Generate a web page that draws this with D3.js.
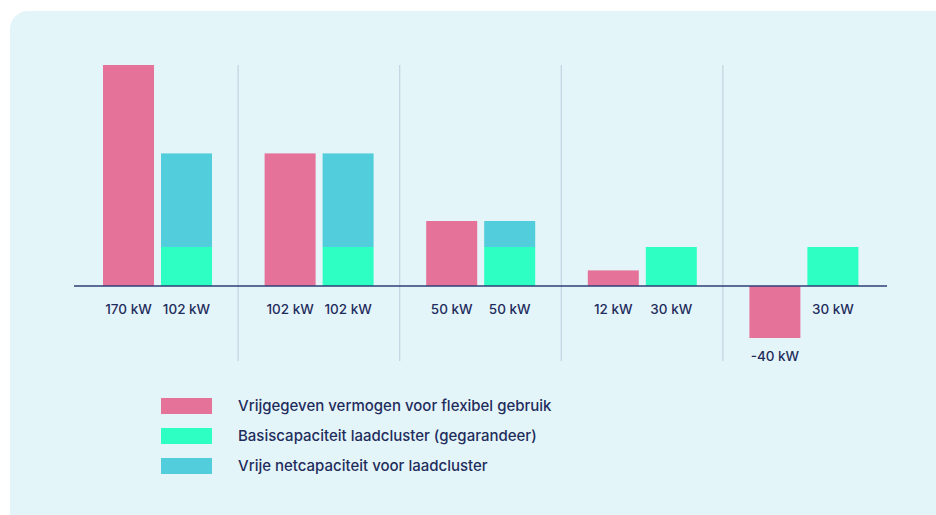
<!DOCTYPE html>
<html>
<head>
<meta charset="utf-8">
<script src="https://cdn.jsdelivr.net/npm/d3@7"></script>
<style>
	body { margin: 0; background: #fff; }
	svg { display: block; font-family: Inter, "Noto Sans", sans-serif; }
</style>
</head>
<body>
<div id="chart"></div>
<script>
const groups = ["g1", "g2", "g3", "g4", "g5"];
const released = [170, 102, 50, 12, -40];     // Vrijgegeven vermogen
const basis = [30, 30, 30, 30, 30];           // Basiscapaciteit (gegarandeerd)
const free = [72, 72, 20, 0, 0];              // Vrije netcapaciteit
const stackLabels = ["102 kW", "102 kW", "50 kW", "30 kW", "30 kW"];
const releasedLabels = ["170 kW", "102 kW", "50 kW", "12 kW", "-40 kW"];
const legendItems = [
	"Vrijgegeven vermogen voor flexibel gebruik",
	"Basiscapaciteit laadcluster (gegarandeer)",
	"Vrije netcapaciteit voor laadcluster"
];

const W = 936, H = 515;
const colors = {pink: "#e57399", green: "#2effc3", teal: "#52cddb"};
const textColor = "#1f2d5c";

const svg = d3.select("#chart").append("svg")
		.attr("width", W)
		.attr("height", H);

// panel background
svg.append("rect")
		.attr("x", 10).attr("y", 11)
		.attr("width", W + 20).attr("height", H + 20)
		.attr("rx", 18)
		.attr("fill", "#e4f5fa");

const x0 = d3.scaleBand()
		.domain(groups)
		.range([76, 884]);

const x1 = d3.scaleBand()
		.domain(["a", "b"])
		.range([27, 136])
		.paddingInner(7 / 58);

const y = d3.scaleLinear()
		.domain([-40, 170])
		.range([338, 65]);

// dividers
svg.selectAll(".divider")
	.data(groups.slice(1))
	.enter()
	.append("line")
		.attr("x1", d => x0(d) + 0.5)
		.attr("x2", d => x0(d) + 0.5)
		.attr("y1", 65)
		.attr("y2", 361)
		.attr("stroke", "#c5d2e0")
		.attr("stroke-width", 1.2);

const g = svg.selectAll(".group")
	.data(groups)
	.enter()
	.append("g")
		.attr("transform", d => `translate(${x0(d)},0)`);

// released power bars
g.append("rect")
		.attr("x", x1("a"))
		.attr("width", x1.bandwidth())
		.attr("y", (d, i) => y(Math.max(0, released[i])))
		.attr("height", (d, i) => Math.abs(y(released[i]) - y(0)))
		.attr("fill", colors.pink);

// stacked: basis + free
g.append("rect")
		.attr("x", x1("b"))
		.attr("width", x1.bandwidth())
		.attr("y", (d, i) => y(basis[i]))
		.attr("height", (d, i) => y(0) - y(basis[i]))
		.attr("fill", colors.green);

g.append("rect")
		.attr("x", x1("b"))
		.attr("width", x1.bandwidth())
		.attr("y", (d, i) => y(basis[i] + free[i]))
		.attr("height", (d, i) => y(basis[i]) - y(basis[i] + free[i]))
		.attr("fill", colors.teal);

// labels
g.append("text")
		.attr("x", x1("a") + x1.bandwidth() / 2)
		.attr("y", (d, i) => released[i] < 0 ? y(released[i]) + 23 : y(0) + 28)
		.attr("text-anchor", "middle")
		.attr("font-size", 13.5)
		.attr("font-weight", 500)
		.attr("fill", textColor)
		.text((d, i) => releasedLabels[i]);

g.append("text")
		.attr("x", x1("b") + x1.bandwidth() / 2)
		.attr("y", y(0) + 28)
		.attr("text-anchor", "middle")
		.attr("font-size", 13.5)
		.attr("font-weight", 500)
		.attr("fill", textColor)
		.text((d, i) => stackLabels[i]);

// zero axis
svg.append("line")
		.attr("x1", 74).attr("x2", 887)
		.attr("y1", y(0)).attr("y2", y(0))
		.attr("stroke", "#2e3f75")
		.attr("stroke-width", 1.3);

// legend
const legend = svg.selectAll(".legend")
	.data(legendItems)
	.enter()
	.append("g")
		.attr("transform", (d, i) => `translate(161,${398 + i * 30})`);

legend.append("rect")
		.attr("width", 51)
		.attr("height", 16)
		.attr("fill", (d, i) => [colors.pink, colors.green, colors.teal][i]);

legend.append("text")
		.attr("x", 77)
		.attr("y", 8)
		.attr("dy", "0.35em")
		.attr("font-size", 15)
		.attr("font-weight", 500)
		.attr("fill", textColor)
		.text(d => d);
</script>
</body>
</html>
